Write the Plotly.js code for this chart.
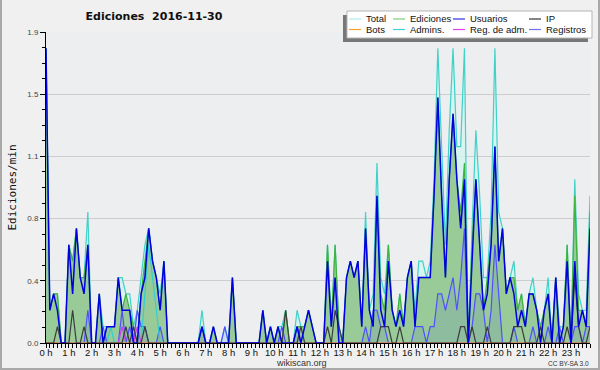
<!DOCTYPE html>
<html>
<head>
<meta charset="utf-8">
<script src="https://cdn.plot.ly/plotly-3.0.1.min.js"></script>
<style>
  html, body { margin: 0; padding: 0; background: #f0f0f0; }
  #wrap { position: relative; width: 600px; height: 370px; }
  #chart { width: 600px; height: 370px; }
  #frame { position: absolute; left: 0; top: 0; width: 600px; height: 370px; box-sizing: border-box;
           border-left: 2px solid #a9a9a9; border-right: 2px solid #a9a9a9; border-bottom: 2px solid #a9a9a9;
           pointer-events: none; }
</style>
</head>
<body>
<div id="wrap"><div id="chart"></div><div id="frame"></div></div>
<script>
// 10-minute bins, 0 h .. 23 h 50, values in edits per minute
const hourLabels = ['0 h','1 h','2 h','3 h','4 h','5 h','6 h','7 h','8 h','9 h','10 h','11 h',
                    '12 h','13 h','14 h','15 h','16 h','17 h','18 h','19 h','20 h','21 h','22 h','23 h'];

const total = [
  1.8,0.2,0.3,0.3,0,0,0.6,0.5,0.7,0.4,0.4,0.8,
  0,0,0.3,0.1,0.1,0.1,0.1,0.4,0.4,0.3,0.3,0.1,
  0.2,0.4,0.6,0.7,0.5,0.4,0.3,0.5,0,0,0,0,
  0,0,0,0,0,0.2,0,0,0.1,0,0,0.1,
  0,0.4,0,0,0,0,0,0,0,0.2,0,0.1,
  0,0.1,0.1,0.2,0,0,0.2,0.1,0.1,0.2,0.1,0,
  0,0,0.6,0.1,0.6,0.1,0,0.4,0.5,0.4,0.5,0.1,
  0.8,0.2,0.3,1.1,0.4,0.3,0.6,0.2,0.1,0.3,0.1,0.4,
  0.5,0.2,0.5,0.5,0.4,0.5,1.0,1.8,1.2,0.6,1.3,1.8,
  1.2,1.2,1.8,0,0.7,1.3,0.9,0.4,0.4,0.8,1.8,0.8,
  0.7,0.3,0.4,0.5,0.2,0.3,0.1,0.3,0.4,0.2,0.1,0.2,
  0.4,0,0.4,0.1,0.1,0.6,0,1.0,0.3,0.2,0.2,0.9
];
const ediciones = [
  1.8,0.2,0.3,0.3,0,0,0.6,0.5,0.7,0.4,0.4,0.6,
  0,0,0.3,0,0.1,0.1,0.1,0.4,0.2,0.3,0.2,0.1,
  0,0.3,0.5,0.7,0.5,0.4,0.2,0.5,0,0,0,0,
  0,0,0,0,0,0.1,0,0,0.1,0,0,0,
  0,0.4,0,0,0,0,0,0,0,0.2,0,0.1,
  0,0.1,0,0.2,0,0,0.1,0.1,0.1,0.2,0.1,0,
  0,0,0.6,0.1,0.6,0.1,0,0.4,0.5,0.4,0.5,0.1,
  0.7,0.2,0.1,0.9,0.3,0.2,0.6,0.2,0.1,0.3,0.1,0.4,
  0.5,0.1,0.4,0.4,0.4,0.4,0.9,1.5,0.9,0.4,1.0,1.4,
  1.0,0.8,1.1,0,0.6,1.0,0.6,0.2,0.4,0.6,1.2,0.5,
  0.7,0.3,0.4,0.4,0.2,0.3,0.1,0.3,0.3,0.2,0.1,0.2,
  0.3,0,0.4,0,0.1,0.6,0,0.9,0.2,0.2,0.1,0.8
];
const usuarios = [
  1.8,0.2,0.3,0.2,0,0,0.6,0.3,0.7,0.4,0.3,0.6,
  0,0,0.3,0,0.1,0.1,0.1,0.4,0.2,0.2,0.2,0,
  0,0.3,0.4,0.7,0.5,0.4,0.2,0.5,0,0,0,0,
  0,0,0,0,0,0.1,0,0,0.1,0,0,0,
  0,0.4,0,0,0,0,0,0,0,0.2,0,0.1,
  0,0.1,0,0,0,0,0.1,0,0.1,0.2,0.1,0,
  0,0,0.5,0.1,0.4,0,0,0.4,0.5,0.4,0.5,0.1,
  0.7,0.2,0.1,0.9,0.2,0.1,0.5,0.2,0.1,0.2,0.1,0.4,
  0.5,0.1,0.4,0.4,0.4,0.4,0.9,1.5,0.9,0.4,1.0,1.4,
  1.0,0.7,1.0,0,0.5,1.0,0.6,0.2,0.3,0.6,1.2,0.5,
  0.7,0.3,0.4,0.3,0.1,0.2,0.1,0.3,0.3,0.2,0,0.2,
  0.3,0,0.4,0,0.1,0.5,0,0.5,0.1,0.2,0.1,0.7
];
const ip = [
  0,0,0,0.1,0,0,0,0.2,0,0,0.1,0,
  0,0,0,0,0,0,0,0,0,0.1,0,0.1,
  0,0,0.1,0,0,0,0,0,0,0,0,0,
  0,0,0,0,0,0,0,0,0,0,0,0,
  0,0,0,0,0,0,0,0,0,0,0,0,
  0,0,0,0.2,0,0,0,0.1,0,0,0,0,
  0,0,0.1,0,0.2,0.1,0,0,0,0,0,0,
  0,0,0,0,0.1,0.1,0.1,0,0,0.1,0,0,
  0,0,0,0,0,0,0,0,0,0,0,0,
  0,0.1,0.1,0,0.1,0,0,0,0.1,0,0,0,
  0,0,0,0.1,0.1,0.1,0,0,0,0,0.1,0,
  0,0,0,0,0,0.1,0,0.4,0.1,0,0,0.1
];
const bots = [
  0,0,0,0,0,0,0,0,0,0,0,0, 0,0,0,0,0,0,0,0,0,0,0,0,
  0,0,0,0,0,0,0,0,0,0,0,0, 0,0,0,0,0,0,0,0,0,0,0,0,
  0,0,0,0,0,0,0,0,0,0,0,0, 0,0,0,0,0,0,0,0,0,0,0,0,
  0,0,0,0,0,0,0,0,0,0,0,0, 0,0,0,0,0,0,0,0,0,0,0,0,
  0,0,0,0,0,0,0,0,0,0,0,0, 0,0,0,0,0,0,0,0,0,0,0,0,
  0,0,0,0,0,0,0,0,0,0,0,0, 0,0,0,0,0,0,0,0,0,0,0,0
];
const admins = [
  0,0,0,0,0,0,0,0,0,0,0,0,
  0,0,0,0,0,0.1,0,0,0,0,0,0,
  0,0,0.3,0.6,0.4,0.2,0,0,0,0,0,0,
  0,0,0,0,0,0,0,0,0,0,0,0,
  0,0,0,0,0,0,0,0,0,0,0,0,
  0,0,0,0,0,0,0,0,0,0,0,0,
  0,0,0,0,0,0,0,0,0,0,0,0,
  0,0,0,0,0,0,0,0,0,0,0,0,
  0,0,0,0,0,0,0,0,0,0,0,0,
  0,0,0,0,0,0,0,0,0,0,0,0,
  0,0,0,0,0,0,0,0,0,0,0,0,
  0,0,0,0,0,0,0,0,0,0,0,0
];
const regAdm = [
  0,0,0,0,0,0,0,0,0,0,0,0,
  0,0,0,0,0,0,0,0,0.1,0,0,0,
  0.1,0,0,0,0,0,0,0,0,0,0,0,
  0,0,0,0,0,0,0,0,0,0,0,0,
  0,0,0,0,0,0,0,0,0,0,0,0,
  0,0,0,0,0,0,0,0,0,0,0,0,
  0,0,0,0,0,0,0,0,0,0,0,0,
  0,0,0,0,0,0,0,0,0,0,0,0,
  0,0,0,0,0,0,0,0,0,0,0,0,
  0,0,0,0,0,0,0,0,0,0,0,0,
  0,0,0,0,0,0,0,0,0,0,0,0,
  0,0,0,0,0,0,0,0,0,0,0,0
];
const registros = [
  0,0,0,0,0,0,0,0,0,0,0,0.2,
  0,0,0,0.1,0,0,0,0,0.2,0,0.1,0,
  0.2,0.1,0.1,0,0,0,0.1,0,0,0,0,0,
  0,0,0,0,0,0.1,0,0,0,0,0,0.1,
  0,0,0,0,0,0,0,0,0,0,0,0,
  0,0,0.1,0,0,0,0.1,0,0,0,0,0,
  0,0,0,0,0,0,0,0,0,0,0,0,
  0.1,0,0.2,0.2,0.1,0.1,0,0,0,0,0,0,
  0,0.1,0.1,0.1,0,0.1,0.1,0.3,0.3,0.2,0.3,0.4,
  0.2,0.4,0.7,0,0.1,0.3,0.3,0.2,0,0.2,0.6,0.3,
  0,0,0,0.1,0,0,0,0,0.1,0,0,0,
  0.1,0,0,0.1,0,0,0,0.1,0.1,0,0.1,0.1
];

const seriesNames = ['Total','Ediciones','Usuarios','IP','Bots','Admins.','Reg. de adm.','Registros'];
const legendColors = ['#b0eceb','#80cc80','#3030e0','#333333','#f7a030','#40d0d8','#e040f0','#7070f0'];

const x = total.map((_, i) => i);

function line(name, y, color, width, extra) {
  return Object.assign({
    type: 'scatter', mode: 'lines', name: name, x: x, y: y,
    line: {color: color, width: width}, showlegend: false, hoverinfo: 'skip'
  }, extra || {});
}

const traces = [
  line('Total', total, '#3ed2c8', 1.2, {fill: 'tozeroy', fillcolor: 'rgba(210,244,240,0.8)'}),
  line('Ediciones', ediciones, '#3cb43c', 1.2, {fill: 'tozeroy', fillcolor: '#99cb99'}),
  line('Registros', registros, '#5050ff', 1.2, {fill: 'tozeroy', fillcolor: 'rgba(60,90,200,0.13)'}),
  line('Admins.', admins, '#30d0d0', 1.2),
  line('Reg. de adm.', regAdm, '#d040f0', 1.2),
  line('Bots', bots, '#ff9900', 1.2),
  line('IP', ip, '#3c3c3c', 1.2),
  line('Usuarios', usuarios, '#0000e0', 1.5)
];

// plot area in pixels
const L = 46, R = 590, T = 32, B = 343;
const px = p => (p - L) / (R - L);
const py = p => (B - p) / (B - T);

const shapes = [
  {type:'rect', xref:'paper', yref:'paper', x0:px(343), x1:px(588), y0:py(15), y1:py(42),
   fillcolor:'#777777', line:{width:0}},
  {type:'rect', xref:'paper', yref:'paper', x0:px(347), x1:px(592), y0:py(11), y1:py(38),
   fillcolor:'#ffffff', line:{color:'#b5b5b5', width:1}}
];
const annotations = [];
const colX = [349, 393, 453, 529];
const rowY = [19, 29.5];
seriesNames.forEach((n, k) => {
  const cx = colX[k % 4], cy = rowY[Math.floor(k / 4)];
  shapes.push({type:'line', xref:'paper', yref:'paper', x0:px(cx), x1:px(cx + 12), y0:py(cy), y1:py(cy),
               line:{color: legendColors[k], width:1.2}});
  annotations.push({xref:'paper', yref:'paper', x:px(cx + 16), y:py(cy), xanchor:'left', yanchor:'middle',
                    text:n, showarrow:false, borderpad:0,
                    font:{family:'Liberation Sans', size:9.5, color:'#111'}});
});
annotations.push({xref:'paper', yref:'paper', x:px(301), y:py(362.5), xanchor:'center', yanchor:'middle',
                  text:'wikiscan.org', showarrow:false, borderpad:0,
                  font:{family:'Liberation Sans', size:9, color:'#333'}});
annotations.push({xref:'paper', yref:'paper', x:px(590), y:py(363), xanchor:'right', yanchor:'middle',
                  text:'CC BY-SA 3.0', showarrow:false, borderpad:0,
                  font:{family:'Liberation Sans', size:6.5, color:'#333'}});

const layout = {
  width: 600, height: 370,
  margin: {l: L, r: 600 - R, t: T, b: 370 - B, pad: 0},
  paper_bgcolor: '#f0f0f0',
  plot_bgcolor: '#edeef0',
  showlegend: false,
  title: {text: 'Ediciones\u00a0 2016-11-30', xref: 'paper', x: px(154), xanchor: 'center',
          yref: 'container', y: 1 - 16.5 / 370, yanchor: 'middle',
          font: {family: 'DejaVu Sans', size: 11, weight: 'bold', color: '#111'}},
  xaxis: {
    range: [0, 143], tickmode: 'array', tickvals: hourLabels.map((_, i) => i * 6), ticktext: hourLabels,
    ticks: 'outside', ticklen: 4, tickcolor: '#000', tickwidth: 1, ticklabelstandoff: -3,
    showline: true, linecolor: '#000', linewidth: 1, showgrid: false, zeroline: false,
    tickfont: {family: 'Liberation Sans', size: 9.5, color: '#111'},
    minor: {tickmode: 'linear', tick0: 0, dtick: 1, ticks: 'outside', ticklen: 4, tickcolor: '#000', showgrid: false},
    fixedrange: true
  },
  yaxis: {
    range: [0, 1.9], tickmode: 'array', tickvals: [0, 0.38, 0.76, 1.14, 1.52, 1.9],
    ticktext: ['0.0', '0.4', '0.8', '1.1', '1.5', '1.9'],
    ticks: 'outside', ticklen: 5, tickcolor: '#000', tickwidth: 1,
    showline: true, linecolor: '#000', linewidth: 1, showgrid: true, gridcolor: '#cdcdcd', gridwidth: 1,
    zeroline: false,
    tickfont: {family: 'Liberation Sans', size: 8, color: '#444'},
    minor: {tickmode: 'linear', tick0: 0, dtick: 0.095, ticks: 'outside', ticklen: 3, tickcolor: '#000', showgrid: false},
    title: {text: 'Ediciones/min', standoff: 8, font: {family: 'DejaVu Sans Mono', size: 11, color: '#111'}},
    fixedrange: true
  },
  shapes: shapes,
  annotations: annotations
};

Plotly.newPlot('chart', traces, layout, {displayModeBar: false, staticPlot: true});
</script>
</body>
</html>
